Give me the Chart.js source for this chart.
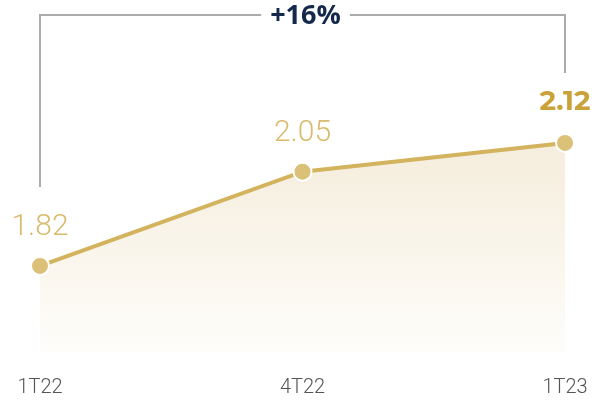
<!DOCTYPE html>
<html>
<head>
<meta charset="utf-8">
<script src="https://cdn.jsdelivr.net/npm/chart.js@4/dist/chart.umd.min.js"></script>
<style>
html,body{margin:0;padding:0;background:#fff;}
#wrap{width:608px;height:401px;}
</style>
</head>
<body>
<div id="wrap"><canvas id="c" width="608" height="401"></canvas></div>
<script>
const categories = ["1T22", "4T22", "1T23"];
const values = [1.82, 2.05, 2.12];
const valueLabels = ["1.82", "2.05", "2.12"];
const changeLabel = "+16%";

const overlay = {
  id: 'overlay',
  afterDatasetsDraw(chart) {
    const ctx = chart.ctx;
    const pts = chart.getDatasetMeta(0).data;
    ctx.save();
    ctx.textAlign = 'center';
    ctx.textBaseline = 'middle';
    pts.forEach((p, i) => {
      const last = i === pts.length - 1;
      ctx.font = (last ? '700 28px Montserrat, "Open Sans", Lato, sans-serif' : '300 30px Roboto, Lato, sans-serif');
      ctx.fillStyle = last ? '#c9a33a' : '#d8bb6c';
      ctx.fillText(valueLabels[i], p.x, p.y - (last ? 41 : 38));
    });
    const x0 = pts[0].x, x1 = pts[pts.length - 1].x;
    const yTop = 15;
    const midX = (x0 + x1) / 2 + 3;
    ctx.font = '700 27px "Open Sans", Lato, sans-serif';
    const tw = ctx.measureText(changeLabel).width;
    ctx.strokeStyle = '#ababab';
    ctx.lineWidth = 2;
    ctx.beginPath();
    ctx.moveTo(x0, pts[0].y - 79);
    ctx.lineTo(x0, yTop);
    ctx.lineTo(midX - tw / 2 - 9, yTop);
    ctx.moveTo(midX + tw / 2 + 9, yTop);
    ctx.lineTo(x1, yTop);
    ctx.lineTo(x1, pts[pts.length - 1].y - 70);
    ctx.stroke();
    ctx.fillStyle = '#14284b';
    ctx.fillText(changeLabel, midX, yTop + 1);
    ctx.restore();
  }
};

new Chart(document.getElementById('c'), {
  type: 'line',
  data: {
    labels: categories,
    datasets: [{
      data: values,
      borderColor: '#d3b35e',
      borderWidth: 4,
      pointRadius: 9,
      pointHoverRadius: 9,
      pointBackgroundColor: '#dbc077',
      pointBorderColor: '#ffffff',
      pointBorderWidth: 2,
      tension: 0,
      fill: 'start',
      backgroundColor: (ctx) => {
        const ca = ctx.chart.chartArea;
        if (!ca) return 'rgba(246,239,224,1)';
        const g = ctx.chart.ctx.createLinearGradient(0, 140, 0, ca.bottom);
        g.addColorStop(0, 'rgba(245,237,220,1)');
        g.addColorStop(1, 'rgba(254,253,250,1)');
        return g;
      }
    }]
  },
  options: {
    responsive: false,
    animation: false,
    layout: { padding: { left: 40, right: 43, top: 20, bottom: 1 } },
    plugins: { legend: { display: false }, tooltip: { enabled: false } },
    scales: {
      x: {
        offset: false,
        grid: { display: false, drawTicks: false },
        border: { display: false },
        afterFit: (scale) => { scale.height = 48; scale.paddingLeft = 0; scale.paddingRight = 0; },
        ticks: {
          padding: 24,
          color: '#555555',
          font: { family: 'Roboto, sans-serif', size: 20, weight: '300' },
          maxRotation: 0,
          autoSkip: false
        }
      },
      y: { display: false, min: 1.61, max: 2.42 }
    }
  },
  plugins: [overlay]
});
</script>
</body>
</html>
